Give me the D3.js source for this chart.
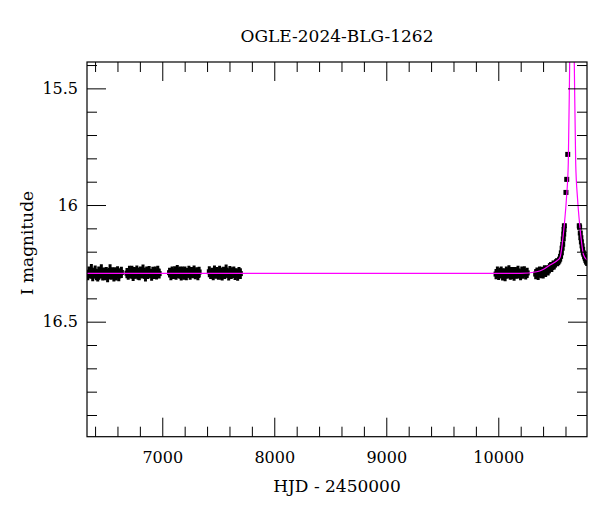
<!DOCTYPE html>
<html><head><meta charset="utf-8">
<script src="https://cdn.jsdelivr.net/npm/d3@7"></script>
<style>
body{margin:0;background:#fff;}
text{font-family:"DejaVu Serif",serif;fill:#000;}
</style></head>
<body>
<svg id="chart" width="600" height="512"></svg>
<script>
// ---- data (HJD-2450000, I mag, error) ----
const title = "OGLE-2024-BLG-1262";
const xLabel = "HJD - 2450000";
const yLabel = "I magnitude";
const xMajorTicks = [7000, 8000, 9000, 10000];
const xMinorTicks = [6400,6600,6800,7200,7400,7600,7800,8200,8400,8600,8800,9200,9400,9600,9800,10200,10400,10600];
const yMajorTicks = [15.5, 16, 16.5];
const yMinorTicks = [15.4,15.6,15.7,15.8,15.9,16.1,16.2,16.3,16.4,16.6,16.7,16.8,16.9];
const xDomain = [6328, 10792];
const yDomain = [15.387, 16.993];

const season1 = [[6335,16.301,.021],[6346,16.288,.024],[6358,16.296,.019],[6367,16.279,.026],[6379,16.305,.022],[6390,16.292,.020],[6401,16.284,.025],[6412,16.299,.023],[6424,16.310,.018],[6433,16.287,.024],[6445,16.294,.021],[6456,16.281,.027],[6468,16.303,.020],[6478,16.290,.022],[6489,16.297,.025],[6500,16.285,.019],[6512,16.308,.023],[6523,16.293,.021],[6534,16.280,.026],[6545,16.300,.020],[6556,16.291,.024],[6568,16.306,.022],[6579,16.286,.019],[6590,16.298,.025],[6601,16.283,.021],[6612,16.304,.023],[6624,16.292,.020],[6635,16.289,.024]];
const season2 = [[6685,16.292,.022],[6696,16.300,.020],[6707,16.285,.025],[6718,16.296,.019],[6729,16.283,.023],[6740,16.305,.021],[6751,16.290,.024],[6762,16.298,.018],[6773,16.281,.022],[6784,16.294,.026],[6795,16.302,.020],[6806,16.287,.023],[6817,16.296,.019],[6828,16.279,.024],[6839,16.291,.021],[6850,16.306,.022],[6861,16.288,.025],[6872,16.297,.020],[6883,16.284,.023],[6894,16.293,.019],[6905,16.301,.024],[6916,16.286,.021],[6927,16.295,.022],[6938,16.290,.026],[6949,16.299,.020],[6960,16.283,.023],[6972,16.294,.021]];
const season3 = [[7065,16.290,.021],[7077,16.298,.024],[7088,16.284,.020],[7100,16.295,.022],[7111,16.287,.025],[7123,16.301,.019],[7134,16.280,.023],[7146,16.293,.021],[7157,16.289,.026],[7169,16.304,.020],[7180,16.286,.022],[7192,16.296,.024],[7203,16.282,.019],[7215,16.299,.023],[7226,16.291,.021],[7238,16.285,.025],[7249,16.300,.020],[7261,16.288,.022],[7272,16.295,.019],[7284,16.283,.024],[7295,16.297,.021],[7307,16.290,.023],[7318,16.302,.020],[7329,16.287,.022]];
const season4 = [[7420,16.286,.024],[7432,16.297,.020],[7443,16.291,.022],[7455,16.303,.019],[7466,16.284,.025],[7478,16.295,.021],[7489,16.289,.023],[7501,16.300,.020],[7512,16.282,.022],[7524,16.294,.026],[7535,16.305,.019],[7547,16.288,.023],[7558,16.296,.021],[7570,16.279,.024],[7581,16.292,.020],[7593,16.301,.022],[7604,16.286,.025],[7616,16.298,.019],[7627,16.290,.023],[7639,16.284,.021],[7650,16.297,.024],[7662,16.291,.020],[7673,16.303,.022],[7685,16.287,.021],[7697,16.294,.023]];
const season5 = [[9980,16.296,.022],[9992,16.288,.024],[10003,16.301,.020],[10015,16.292,.023],[10026,16.284,.021],[10038,16.298,.025],[10049,16.290,.019],[10061,16.305,.022],[10072,16.287,.024],[10084,16.295,.020],[10095,16.281,.023],[10107,16.299,.021],[10118,16.292,.026],[10130,16.286,.020],[10141,16.303,.022],[10153,16.290,.024],[10164,16.297,.019],[10176,16.283,.023],[10187,16.294,.021],[10199,16.300,.022],[10210,16.288,.025],[10222,16.296,.020],[10233,16.285,.023],[10245,16.298,.021],[10258,16.291,.022]];
const season6 = [[10334,16.296,.022],[10345,16.289,.021],[10356,16.298,.023],[10368,16.284,.020],[10379,16.292,.022],[10390,16.286,.021],[10401,16.295,.020],[10412,16.280,.022],[10423,16.287,.021],[10434,16.278,.020],[10445,16.283,.019],[10456,16.270,.020],[10467,16.262,.018],[10478,16.268,.019],[10489,16.255,.017],[10500,16.258,.018],[10510,16.250,.016],[10520,16.244,.016],[10530,16.247,.015],[10540,16.240,.015],[10548,16.232,.014],[10556,16.220,.014],[10563,16.205,.013],[10570,16.185,.013],[10575,16.168,.012],[10580,16.145,.012],[10584,16.125,.011],[10587,16.105,.011],[10590,16.089,.010],[10604,15.946,.008],[10611,15.890,.008],[10620,15.783,.008]];
const season6post = [[10723,16.089,.010],[10726,16.095,.010],[10732,16.120,.011],[10737,16.140,.011],[10742,16.158,.012],[10748,16.175,.012],[10753,16.190,.013],[10759,16.205,.013],[10765,16.212,.014],[10771,16.222,.014],[10777,16.230,.015],[10783,16.238,.015],[10789,16.245,.016]];

const modelT   = [6328, 10200, 10343, 10400, 10462, 10521, 10551, 10575, 10589, 10608, 10625, 10637.5, 10648, 10658, 10668, 10678.5, 10691, 10708, 10727, 10741, 10760, 10792];
const modelMag = [16.293,16.293,16.286,16.276,16.257,16.240,16.225,16.150,16.086,15.975,15.820,15.387,15.0,14.6,15.0,15.387,15.820,15.975,16.086,16.150,16.212,16.236];

// ---- layout ----
const L = 87, R = 587, T = 62, B = 436.7;
const svg = d3.select("#chart");
const x = d3.scaleLinear().domain(xDomain).range([L, R]);
const y = d3.scaleLinear().domain(yDomain).range([T, B]);

svg.append("defs").append("clipPath").attr("id","clip")
  .append("rect").attr("x",L).attr("y",T).attr("width",R-L).attr("height",B-T);

const data = [].concat(season1, season2, season3, season4, season5, season6, season6post)
  .map(d => ({t:d[0], m:d[1], e:d[2]}));

const plot = svg.append("g").attr("clip-path","url(#clip)");
plot.selectAll("line.err").data(data).join("line").attr("class","err")
  .attr("x1", d => x(d.t)).attr("x2", d => x(d.t))
  .attr("y1", d => y(d.m - d.e)).attr("y2", d => y(d.m + d.e))
  .attr("stroke","#000").attr("stroke-width",3);
plot.selectAll("rect.pt").data(data).join("rect").attr("class","pt")
  .attr("x", d => x(d.t) - 2.5).attr("y", d => y(d.m) - 2.5)
  .attr("width",5).attr("height",5).attr("fill","#000");

const model = modelT.map((t,i) => [t, modelMag[i]]);
plot.append("path").datum(model)
  .attr("d", d3.line().x(d => x(d[0])).y(d => y(d[1])).curve(d3.curveMonotoneX))
  .attr("fill","none").attr("stroke","#ff00ff").attr("stroke-width",1.2);

// ---- axes ----
function styleAxis(g){
  g.select(".domain").remove();
  g.selectAll(".tick line").attr("stroke","#000").attr("stroke-width",1);
  g.selectAll(".tick text").attr("font-family","DejaVu Serif").attr("font-size",16).attr("fill","#000");
}
const MAJ = 19, MIN = 10;
svg.append("g").attr("transform",`translate(0,${B})`)
  .call(d3.axisBottom(x).tickValues(xMajorTicks).tickSize(-MAJ).tickPadding(15).tickFormat(d3.format("d"))).call(styleAxis);
svg.append("g").attr("transform",`translate(0,${B})`)
  .call(d3.axisBottom(x).tickValues(xMinorTicks).tickSize(-MIN).tickFormat("")).call(styleAxis);
svg.append("g").attr("transform",`translate(0,${T})`)
  .call(d3.axisTop(x).tickValues(xMajorTicks).tickSize(-MAJ).tickFormat("")).call(styleAxis);
svg.append("g").attr("transform",`translate(0,${T})`)
  .call(d3.axisTop(x).tickValues(xMinorTicks).tickSize(-MIN).tickFormat("")).call(styleAxis);
svg.append("g").attr("transform",`translate(${L},0)`)
  .call(d3.axisLeft(y).tickValues(yMajorTicks).tickSize(-MAJ).tickPadding(9).tickFormat(d => String(d))).call(styleAxis);
svg.append("g").attr("transform",`translate(${L},0)`)
  .call(d3.axisLeft(y).tickValues(yMinorTicks).tickSize(-MIN).tickFormat("")).call(styleAxis);
svg.append("g").attr("transform",`translate(${R},0)`)
  .call(d3.axisRight(y).tickValues(yMajorTicks).tickSize(-MAJ).tickFormat("")).call(styleAxis);
svg.append("g").attr("transform",`translate(${R},0)`)
  .call(d3.axisRight(y).tickValues(yMinorTicks).tickSize(-MIN).tickFormat("")).call(styleAxis);

svg.append("rect").attr("x",L).attr("y",T).attr("width",R-L).attr("height",B-T)
  .attr("fill","none").attr("stroke","#000").attr("stroke-width",1.2);

svg.append("text").attr("x",(L+R)/2).attr("y",42).attr("text-anchor","middle")
  .attr("font-size",17).text(title);
svg.append("text").attr("x",(L+R)/2).attr("y",492).attr("text-anchor","middle")
  .attr("font-size",17).text(xLabel);
svg.append("text").attr("transform",`translate(33,243) rotate(-90)`).attr("text-anchor","middle")
  .attr("font-size",17).text(yLabel);
</script>
</body></html>
